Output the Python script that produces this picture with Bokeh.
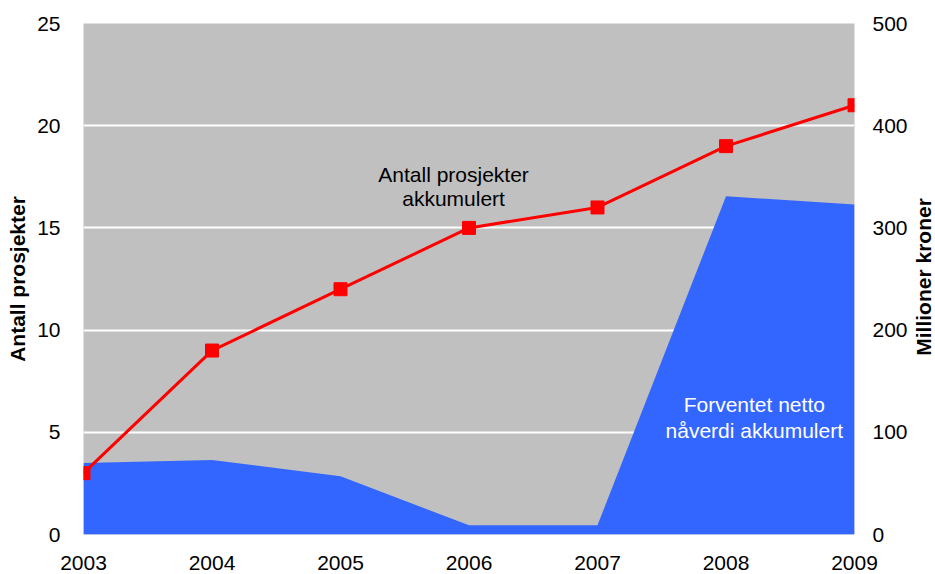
import math
from bokeh.plotting import figure
from bokeh.layouts import row
from bokeh.models import Range1d, LinearAxis, FixedTicker, Label
from bokeh.embed import file_html
from bokeh.resources import INLINE

years = [2003, 2004, 2005, 2006, 2007, 2008, 2009]
projects = [3, 9, 12, 15, 16, 19, 21]
npv_mnok = [70, 73, 57, 9, 9, 331, 323]
left_ticks = [0, 5, 10, 15, 20, 25]
right_ticks = [0, 100, 200, 300, 400, 500]

FONT = "Liberation Sans"
FS = "21px"
W2 = 24

p = figure(width=935 - W2, height=574, output_backend="svg", toolbar_location=None,
           x_range=Range1d(2003, 2009), y_range=Range1d(0, 25),
           min_border_left=83, min_border_right=81 - W2, min_border_top=23, min_border_bottom=40)
p.extra_y_ranges = {"right": Range1d(0, 500)}
p.background_fill_color = "#C0C0C0"
p.border_fill_color = "white"
p.outline_line_color = None

p.varea(x=years, y1=0, y2=npv_mnok, y_range_name="right", fill_color="#3366FF")
p.line(years, projects, line_color="#FF0000", line_width=3)
p.scatter(years, projects, marker="square", size=13, fill_color="#FF0000", line_color="#FF0000")

p.xgrid.grid_line_color = None
p.ygrid.grid_line_color = "white"
p.ygrid.grid_line_width = 2
p.ygrid.ticker = FixedTicker(ticks=left_ticks)

right = LinearAxis(y_range_name="right", ticker=FixedTicker(ticks=right_ticks))
p.add_layout(right, "right")

p.xaxis.ticker = FixedTicker(ticks=years)
p.yaxis[0].ticker = FixedTicker(ticks=left_ticks)
p.yaxis[0].axis_label = "Antall prosjekter"

for ax in p.xaxis + p.yaxis:
    ax.axis_line_color = None
    ax.major_tick_line_color = None
    ax.minor_tick_line_color = None
    ax.major_label_text_font = FONT
    ax.major_label_text_font_size = FS
    ax.major_label_text_color = "black"
    ax.axis_label_text_font = FONT
    ax.axis_label_text_font_size = FS
    ax.axis_label_text_font_style = "bold"
    ax.axis_label_text_color = "black"

p.yaxis[0].major_label_standoff = 17
p.yaxis[0].axis_label_standoff = 5
right.major_label_standoff = 12
p.xaxis.major_label_standoff = 15

for txt, x, y, col in [("Antall prosjekter", 2005.88, 17.61, "black"),
                       ("akkumulert", 2005.88, 16.44, "black"),
                       ("Forventet netto", 2008.22, 6.36, "white"),
                       ("nåverdi akkumulert", 2008.22, 5.09, "white")]:
    p.add_layout(Label(x=x, y=y, text=txt, text_align="center", text_baseline="middle",
                       text_font=FONT, text_font_size=FS, text_color=col))

# narrow strip on the right that carries the right-hand axis title (reads bottom-to-top)
p2 = figure(width=W2, height=574, output_backend="svg", toolbar_location=None,
            x_range=Range1d(0, 1), y_range=Range1d(0, 25),
            min_border_left=0, min_border_right=0, min_border_top=23, min_border_bottom=40)
p2.axis.visible = False
p2.grid.visible = False
p2.outline_line_color = None
p2.background_fill_color = "white"
p2.border_fill_color = "white"
p2.add_layout(Label(x=0.5, y=12.6, text="Millioner kroner", angle=math.pi / 2,
                    text_align="center", text_baseline="middle", text_font=FONT,
                    text_font_size=FS, text_font_style="bold", text_color="black"))

open("out.html", "w").write(file_html(row(p, p2), INLINE))
